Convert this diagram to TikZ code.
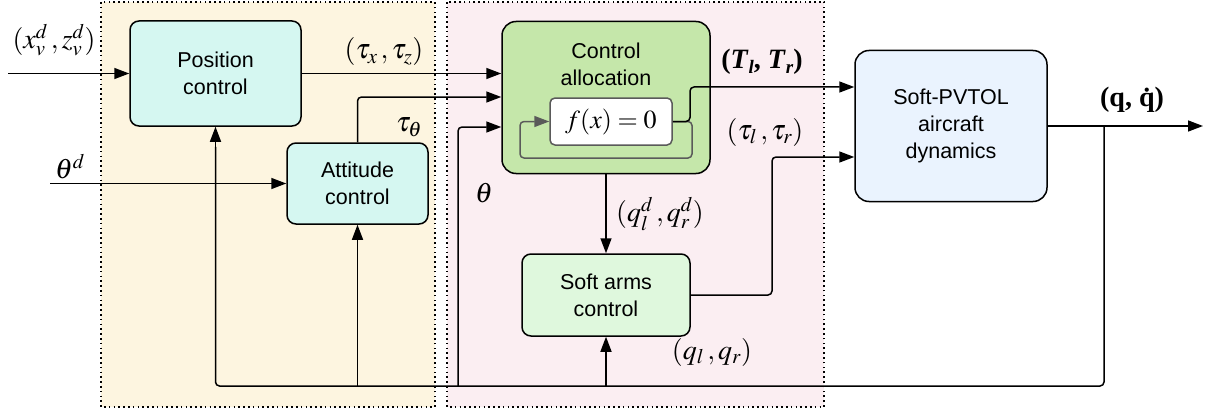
\documentclass[tikz,border=0pt]{standalone}
\usepackage{mathptmx}
\usepackage{fontspec}
\setmainfont{Liberation Sans}
\newfontfamily\serifb{Liberation Serif}
\usetikzlibrary{arrows.meta}
\definecolor{ybg}{HTML}{FDF5E0}
\definecolor{pbg}{HTML}{FBEEF2}
\definecolor{cyanbox}{HTML}{D5F7F1}
\definecolor{greenbox}{HTML}{C5E7AA}
\definecolor{lgreenbox}{HTML}{DFF8DD}
\definecolor{bluebox}{HTML}{EAF3FE}
\definecolor{loopgray}{HTML}{5A5A5A}
\newcommand\bsub[1]{\raisebox{-5pt}{\fontsize{19}{19}\selectfont\textit{#1}}}
\tikzset{
  blk/.style={draw=black, line width=1.5pt, rounded corners=9pt, align=center,
    font=\fontsize{21.5}{27}\selectfont, inner sep=0pt},
  arr/.style={line width=1.5pt, -{Triangle[length=15pt,width=11pt]}},
  ln/.style={line width=1.5pt},
  lab/.style={font=\fontsize{28}{32}\selectfont, inner sep=0pt},
  region/.style={draw=black, line width=1.6pt, dash pattern=on 1.6pt off 3.2pt},
}
\begin{document}
\begin{tikzpicture}[x=1pt,y=-1pt]
\useasboundingbox (0,0) rectangle (1205,412);
% regions
\fill[ybg] (101,2) rectangle (435,407);
\fill[pbg] (447,2) rectangle (824,407);
\draw[region] (101,2) rectangle (435,407);
\draw[region] (447,2) rectangle (824,407);
% blocks
\node[blk, fill=cyanbox, minimum width=171pt, minimum height=105pt] (pos) at (215.5,73.5) {Position\\control};
\node[blk, fill=cyanbox, minimum width=141pt, minimum height=81pt] (att) at (357.5,183.5) {Attitude\\control};
\node[blk, fill=greenbox, rounded corners=14pt, minimum width=208pt, minimum height=152pt] (ca) at (606,97.5) {};
\node[align=center, font=\fontsize{21.5}{27}\selectfont, inner sep=0pt] (calab) at (606,64) {Control\\allocation};
\node[blk, fill=white, draw=loopgray, rounded corners=5pt, minimum width=122pt, minimum height=47pt] (fx) at (611,121.5) {\fontsize{26}{30}\selectfont$f(x)=0$};
\node[blk, fill=lgreenbox, minimum width=168pt, minimum height=82pt] (arms) at (606,295) {Soft arms\\control};
\node[blk, fill=bluebox, rounded corners=14pt, minimum width=192pt, minimum height=151pt] (dyn) at (951,126) {Soft-PVTOL\\aircraft\\dynamics};
% coordinates
\coordinate (in1) at (8,73.5);
\coordinate (in2) at (50,183.5);
\coordinate (out) at (1203,126);
\coordinate (fb) at (1104,126);
\coordinate (bot) at (0,386);
\coordinate (attout) at (0,97);
\coordinate (thin) at (0,127);
\coordinate (Tout) at (0,87);
\coordinate (tauin) at (0,157);
\coordinate (thx) at (458,0);
\coordinate (tx) at (690,0);
\coordinate (taux) at (772,0);
\coordinate (loopr) at (692,0);
\coordinate (loopb) at (520,158);
% connectors
\draw[arr] (in1) -- (pos.west);
\draw[arr] (in2) -- (att.west);
\draw[arr] (pos.east) -- (ca.west |- pos.east);
\draw[arr, rounded corners=4pt] (att.north) |- (ca.west |- attout);
\draw[arr] (ca.south) -- (arms.north);
\draw[arr] (dyn.east) -- (out);
\draw[ln, rounded corners=4pt] (fb) |- (pos.south |- bot) -- ([yshift=-20pt]pos.south);
\draw[arr] ([yshift=-20pt]pos.south) -- (pos.south);
\draw[arr] (att.south |- bot) -- (att.south);
\draw[arr] (arms.south |- bot) -- (arms.south);
\draw[arr, rounded corners=4pt] (thx |- bot) |- (ca.west |- thin);
\draw[arr, rounded corners=4pt] (arms.east) -| (taux |- tauin) -- (dyn.west |- tauin);
\draw[line width=1.5pt, draw=loopgray, rounded corners=4pt, -{Triangle[length=15pt,width=11pt]}]
  (fx.east) -| (loopr |- loopb) -| (loopb |- fx.west) -- (fx.west);
\draw[arr, rounded corners=4pt] (fx.east) -| (tx |- Tout) -- (dyn.west |- Tout);
% labels
\node[lab] (l1) at (54,40) {$(x_v^d\,, z_v^d)$};
\node[lab] (l2) at (384,52) {$(\tau_x\,, \tau_z)$};
\node[lab] (l3) at (409,127) {$\tau_\theta$};
\node[lab] (l4) at (70,167) {$\theta^d$};
\node[lab] (l5) at (484,193) {$\theta$};
\node[lab, font=\serifb\bfseries\fontsize{28}{32}\selectfont] (l6) at (762,62) {(\textit{T}\bsub{l}, \textit{T}\bsub{r})};
\node[lab] (l7) at (765,132) {$(\tau_l\,, \tau_r)$};
\node[lab] (l8) at (660,214) {$(q_l^d\,, q_r^d)$};
\node[lab] (l9) at (712,352) {$(q_l\,, q_r)$};
\node[lab, font=\serifb\bfseries\fontsize{28}{32}\selectfont] (l10) at (1132,100) {(q, \.q)};
\end{tikzpicture}
\end{document}
